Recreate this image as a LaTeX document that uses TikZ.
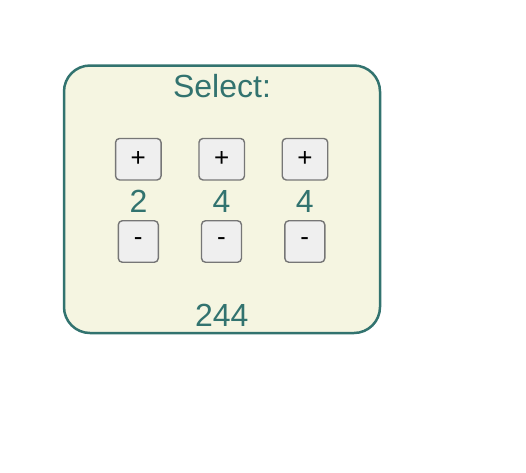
\documentclass[tikz,border=0pt]{standalone}
\usepackage{fontspec}
\setmainfont{Liberation Sans}
\definecolor{teal1}{RGB}{50,115,111}
\definecolor{beige1}{RGB}{245,245,225}
\definecolor{btnfill}{RGB}{239,239,239}
\definecolor{btnline}{RGB}{118,118,118}
\begin{document}
\begin{tikzpicture}[x=1pt,y=-1pt,
  panel/.style={draw=teal1,fill=beige1,line width=2.5pt,rounded corners=26pt},
  bigtext/.style={text=teal1,font=\fontsize{32}{32}\selectfont,anchor=base,inner sep=0pt},
  plusbtn/.style={draw=btnline,fill=btnfill,line width=1.4pt,rounded corners=4pt,
    minimum width=45.5pt,minimum height=41.5pt,inner sep=0pt,font=\fontsize{26}{26}\selectfont},
  minusbtn/.style={plusbtn,minimum width=40pt}
]
\useasboundingbox (0,0) rectangle (526,472);
\draw[panel] (64,65.5) rectangle (380,333);
\node[bigtext] (title) at (222,97.7) {Select:};
\node[plusbtn] (p1) at (138.3,159.2) {+};
\node[plusbtn] (p2) at (221.7,159.2) {+};
\node[plusbtn] (p3) at (305,159.2) {+};
\node[bigtext] (d1) at (138.5,212) {2};
\node[bigtext] (d2) at (221.4,212) {4};
\node[bigtext] (d3) at (304.7,212) {4};
\node[minusbtn] (m1) at (138.3,241.5) {-};
\node[minusbtn] (m2) at (221.5,241.5) {-};
\node[minusbtn] (m3) at (304.8,241.5) {-};
\node[bigtext] (total) at (221.7,326) {244};
\end{tikzpicture}
\end{document}
